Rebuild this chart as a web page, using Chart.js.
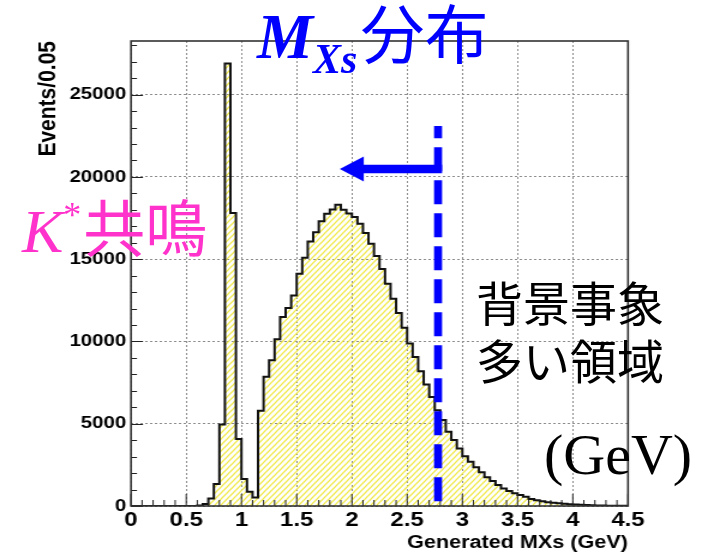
<!DOCTYPE html>
<html>
<head>
<meta charset="utf-8">
<script src="https://cdn.jsdelivr.net/npm/chart.js@4"></script>
<style>
  body { margin: 0; background: #fff; }
  #wrap { position: relative; width: 702px; height: 554px; overflow: hidden; }
  #c { position: absolute; left: 0; top: 0; width: 702px; height: 554px; }
  .note { position: absolute; white-space: nowrap; font-family: "Noto Sans CJK JP", sans-serif; }
</style>
</head>
<body>
<div id="wrap">
  <canvas id="c" width="585" height="554" style="width:702px;height:554px"></canvas>

  <div class="note" style="left:257px; top:-2px; font-size:64px; line-height:64px; color:#0000ff;"><span style="font-family:'Liberation Serif'; font-style:italic; font-weight:bold; font-size:63px;">M</span><span style="font-family:'Liberation Serif'; font-style:italic; font-weight:bold; font-size:42px; vertical-align:-15px;">Xs</span><span style="margin-left:3px;">分布</span></div>

  <div class="note" style="left:22px; top:184px; font-size:62px; line-height:62px; color:#ff33cc;"><span style="font-family:'Liberation Serif'; font-style:italic; font-size:62px;">K</span><span style="font-family:'Liberation Serif'; font-size:36px; vertical-align:25px;">*</span><span style="margin-left:2px;">共鳴</span></div>

  <div class="note" style="left:476px; top:272px; font-size:47px; line-height:58px; color:#000;">背景事象<br>多い領域</div>

  <div class="note" style="left:544px; top:426px; font-family:'Liberation Serif'; font-size:58px; line-height:58px; color:#000;">(GeV)</div>
</div>

<script>
// histogram: Generated MXs, 90 bins of 0.05 GeV from 0 to 4.5
const binWidth = 0.05;
const counts = [
  0, 0, 0, 0, 0, 0, 0, 0, 0, 0,
  0, 0, 30, 120, 450, 1330, 4950, 26900, 17800, 4070,
  1640, 870, 520, 5790, 7850, 8860, 10130, 11490, 12030, 12800,
  14120, 15090, 16080, 16630, 17310, 17760, 18020, 18310, 18000, 17780,
  17560, 17150, 16590, 15940, 15190, 14400, 13510, 12600, 11730, 10840,
  9870, 9060, 8190, 7380, 6630, 5825, 5220, 4510, 4005, 3500,
  3030, 2690, 2350, 2045, 1740, 1515, 1275, 1070, 910, 770,
  670, 565, 430, 345, 285, 235, 195, 160, 130, 105,
  85, 70, 55, 45, 35, 28, 22, 17, 13, 10
];
const binEdges = Array.from({length: counts.length + 1}, (_, i) => +(i * binWidth).toFixed(2));

const xTicks = [0, 0.5, 1, 1.5, 2, 2.5, 3, 3.5, 4, 4.5];
const yTicks = [0, 5000, 10000, 15000, 20000, 25000];
const yMax = 28260;

// cut line and arrow (blue annotation)
const cutX = 2.78;
const cutTop = 23100;
const arrowTipX = 1.89;
const arrowY = 20480;

const sx = 1.2; // canvas is drawn 585 wide and shown at 702

function hatch() {
  const c = document.createElement('canvas');
  c.width = 5; c.height = 6;
  const g = c.getContext('2d');
  g.strokeStyle = 'rgb(240,232,70)';
  g.lineWidth = 1.2;
  g.beginPath();
  g.moveTo(-5, 12); g.lineTo(10, -6);
  g.moveTo(-10, 12); g.lineTo(5, -6);
  g.moveTo(0, 12); g.lineTo(15, -6);
  g.stroke();
  return g.createPattern(c, 'repeat');
}

const points = binEdges.map((x, i) => ({x: x, y: i < counts.length ? counts[i] : counts[counts.length - 1]}));

const frameTicks = {
  id: 'frameTicks',
  afterDatasetsDraw(chart) {
    const {ctx, chartArea: a, scales: {x, y}} = chart;
    ctx.save();
    ctx.strokeStyle = '#222';
    ctx.lineWidth = 1;
    ctx.beginPath();
    for (let v = 0; v <= yMax; v += 1000) {
      const py = Math.round(y.getPixelForValue(v)) + 0.5;
      const len = v % 5000 === 0 ? 12 / sx : 6 / sx;
      ctx.moveTo(a.left, py); ctx.lineTo(a.left + len, py);
    }
    for (let k = 0; k <= 45; k++) {
      const px = x.getPixelForValue(k / 10);
      const len = k % 5 === 0 ? 12 : 6;
      ctx.moveTo(px, a.bottom); ctx.lineTo(px, a.bottom - len);
    }
    ctx.stroke();
    ctx.lineWidth = 1.6;
    ctx.strokeStyle = '#333';
    ctx.strokeRect(a.left, a.top, a.right - a.left, a.bottom - a.top);

    // blue dashed cut line
    const cx = x.getPixelForValue(cutX);
    ctx.strokeStyle = '#0000ff';
    ctx.lineWidth = 8 / sx;
    ctx.setLineDash([24, 9]);
    ctx.lineDashOffset = 11.7;
    ctx.beginPath();
    ctx.moveTo(cx, y.getPixelForValue(cutTop));
    ctx.lineTo(cx, a.bottom);
    ctx.stroke();
    ctx.setLineDash([]);

    // arrow pointing to lower masses
    const ay = y.getPixelForValue(arrowY);
    const tip = x.getPixelForValue(arrowTipX);
    const head = 24 / sx;
    ctx.fillStyle = '#0000ff';
    ctx.beginPath();
    ctx.moveTo(tip, ay);
    ctx.lineTo(tip + head, ay - 12.5);
    ctx.lineTo(tip + head, ay - 4.2);
    ctx.lineTo(cx + 4 / sx, ay - 4.2);
    ctx.lineTo(cx + 4 / sx, ay + 4.2);
    ctx.lineTo(tip + head, ay + 4.2);
    ctx.lineTo(tip + head, ay + 12.5);
    ctx.closePath();
    ctx.fill();
    ctx.restore();
  }
};

new Chart(document.getElementById('c').getContext('2d'), {
  type: 'line',
  data: {
    datasets: [{
      data: points,
      stepped: true,
      borderColor: '#111',
      borderWidth: 2,
      backgroundColor: hatch(),
      fill: 'origin',
      pointRadius: 0,
      tension: 0
    }]
  },
  options: {
    responsive: false,
    animation: false,
    devicePixelRatio: 1,
    layout: {padding: {left: 0, top: 41, right: 585 - 628 / sx, bottom: 0}},
    plugins: {legend: {display: false}, tooltip: {enabled: false}},
    scales: {
      x: {
        type: 'linear',
        min: 0,
        max: 4.5,
        afterBuildTicks: s => { s.ticks = xTicks.map(v => ({value: v})); },
        afterFit: s => { s.height = 48; },
        ticks: {
          callback: v => String(Math.round(v * 10) / 10),
          font: {family: 'Liberation Sans', weight: 'bold', size: 20},
          color: '#000', padding: 2, maxRotation: 0, autoSkip: false
        },
        grid: {color: '#8c8c8c', lineWidth: 1, drawTicks: false},
        border: {display: false, dash: [2, 2]},
        title: {
          display: true, text: 'Generated MXs (GeV)', align: 'end', color: '#000',
          font: {family: 'Liberation Sans', weight: 'bold', size: 18},
          padding: {top: 0, bottom: 0}
        }
      },
      y: {
        min: 0,
        max: yMax,
        afterBuildTicks: s => { s.ticks = yTicks.map(v => ({value: v})); },
        afterFit: s => { s.width = 131 / sx; },
        ticks: {
          callback: v => String(v),
          font: {family: 'Liberation Sans', weight: 'bold', size: 17},
          color: '#000', padding: 4
        },
        grid: {color: '#8c8c8c', lineWidth: 1, drawTicks: false},
        border: {display: false, dash: [2, 2]},
        title: {
          display: true, text: 'Events/0.05', align: 'end', color: '#000',
          font: {family: 'Liberation Sans', weight: 'bold', size: 21},
          padding: {top: 28, bottom: 0}
        }
      }
    }
  },
  plugins: [frameTicks]
});
</script>
</body>
</html>
